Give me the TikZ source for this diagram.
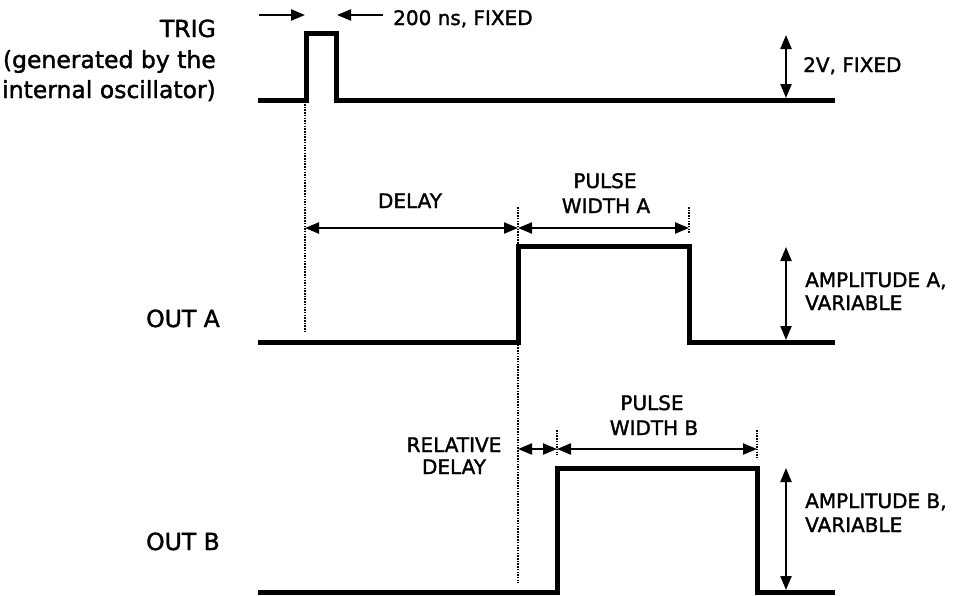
\documentclass[tikz,border=0pt]{standalone}
\usepackage{fontspec}
\setmainfont[FakeBold=1.6]{DejaVu Sans}
\usetikzlibrary{arrows.meta}
\begin{document}
\begin{tikzpicture}[x=1pt,y=-1pt,
  sig/.style={line width=5pt, line join=miter, line cap=butt},
  dim/.style={line width=2.2pt, {Triangle[length=14pt,width=11pt]}-{Triangle[length=14pt,width=11pt]}},
  onearrow/.style={line width=2.2pt, -{Triangle[length=14pt,width=11pt]}},
  guide/.style={line width=1.8pt, dash pattern=on 1.5pt off 1.2pt},
  biglab/.style={font=\fontsize{23.5}{28}\selectfont, inner sep=0pt},
  lab/.style={font=\fontsize{20}{23}\selectfont, inner sep=0pt}]
\useasboundingbox (0,0) rectangle (957,595);

% TRIG waveform
\coordinate (t0) at (258,100);
\coordinate (t1) at (306,100);
\coordinate (t2) at (306,33);
\coordinate (t3) at (336,33);
\coordinate (t4) at (336,100);
\coordinate (t5) at (835,100);
\draw[sig] (t0) -- (t1) -- (t2) -- (t3) -- (t4) -- (t5);

% OUT A waveform
\coordinate (a0) at (258,342);
\coordinate (a1) at (518,342);
\coordinate (a2) at (518,246);
\coordinate (a3) at (689,246);
\coordinate (a4) at (689,342);
\coordinate (a5) at (835,342);
\draw[sig] (a0) -- (a1) -- (a2) -- (a3) -- (a4) -- (a5);

% OUT B waveform
\coordinate (b0) at (258,592);
\coordinate (b1) at (557,592);
\coordinate (b2) at (557,468);
\coordinate (b3) at (757,468);
\coordinate (b4) at (757,592);
\coordinate (b5) at (835,592);
\draw[sig] (b0) -- (b1) -- (b2) -- (b3) -- (b4) -- (b5);

% guide lines
\coordinate (g1a) at (305,104);  \coordinate (g1b) at (305,332);
\coordinate (g2a) at (518,207);  \coordinate (g2b) at (518,583);
\coordinate (g3a) at (689,207);  \coordinate (g3b) at (689,234);
\coordinate (g4a) at (557,430);  \coordinate (g4b) at (557,455);
\coordinate (g5a) at (757,430);  \coordinate (g5b) at (757,458);
\draw[guide] (g1a) -- (g1b);
\draw[guide] (g2a) -- (g2b);
\draw[guide] (g3a) -- (g3b);
\draw[guide] (g4a) -- (g4b);
\draw[guide] (g5a) -- (g5b);

% 200 ns arrows
\coordinate (w0) at (259,15);  \coordinate (w1) at (305,15);
\coordinate (w2) at (383,15);  \coordinate (w3) at (337,15);
\draw[onearrow] (w0) -- (w1);
\draw[onearrow] (w2) -- (w3);

% dimension arrows
\coordinate (d1a) at (305,228); \coordinate (d1b) at (518,228);
\coordinate (d2b) at (689,228);
\draw[dim] (d1a) -- (d1b);
\draw[dim] (d1b) -- (d2b);
\coordinate (d3a) at (518,449); \coordinate (d3b) at (557,449);
\coordinate (d4b) at (757,449);
\draw[dim] (d3a) -- (d3b);
\draw[dim] (d3b) -- (d4b);

% amplitude arrows
\coordinate (v0) at (786,35);  \coordinate (v1) at (786,98);
\coordinate (va0) at (786,247); \coordinate (va1) at (786,340);
\coordinate (vb0) at (786,468); \coordinate (vb1) at (786,590);
\draw[dim] (v0) -- (v1);
\draw[dim] (va0) -- (va1);
\draw[dim] (vb0) -- (vb1);

% left labels
\node[biglab, anchor=base east] (trig1) at (216,37) {TRIG};
\node[biglab, anchor=base east] (trig2) at (216,68) {(generated by the};
\node[biglab, anchor=base east] (trig3) at (216,98) {internal oscillator)};
\node[biglab, anchor=base east] (outa) at (220,327) {OUT A};
\node[biglab, anchor=base east] (outb) at (220,550) {OUT B};

% other labels
\node[lab, anchor=base west] (fixedt) at (393,25) {200 ns, FIXED};
\node[lab, anchor=base west] (fixedv) at (803,72) {2V, FIXED};
\node[lab, anchor=base] (delay) at (410,208) {DELAY};
\node[lab, anchor=base] (pwa1) at (605,188) {PULSE};
\node[lab, anchor=base] (pwa2) at (606,213) {WIDTH A};
\node[lab, anchor=base] (pwb1) at (652,410) {PULSE};
\node[lab, anchor=base] (pwb2) at (654,435) {WIDTH B};
\node[lab, anchor=base] (rel1) at (454,452) {RELATIVE};
\node[lab, anchor=base] (rel2) at (454,474) {DELAY};
\node[lab, anchor=base west] (ampa1) at (805,287) {AMPLITUDE A,};
\node[lab, anchor=base west] (ampa2) at (805,310) {VARIABLE};
\node[lab, anchor=base west] (ampb1) at (805,508) {AMPLITUDE B,};
\node[lab, anchor=base west] (ampb2) at (805,532) {VARIABLE};
\end{tikzpicture}
\end{document}
